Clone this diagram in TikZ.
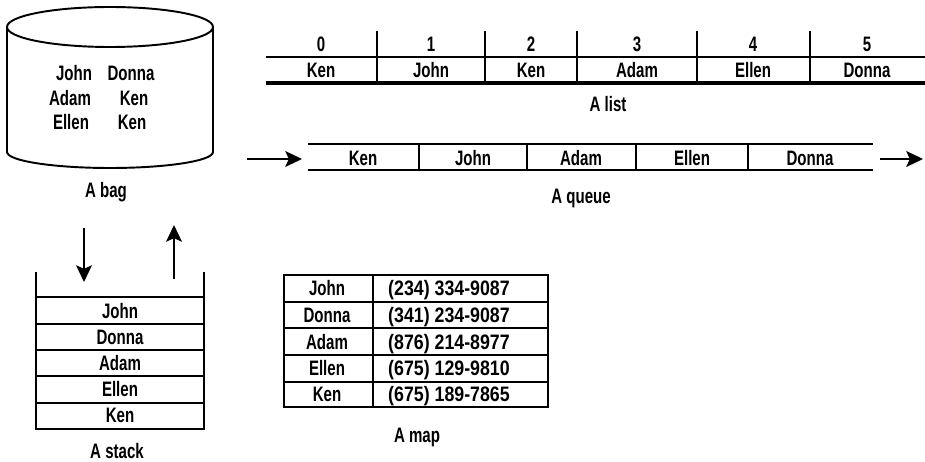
\documentclass[tikz,border=0pt]{standalone}
\usepackage{fontspec}
\setmainfont[FakeStretch=0.72]{Liberation Sans}
\newfontfamily\telfont[FakeStretch=0.85]{Liberation Sans}
\usetikzlibrary{arrows.meta}

\begin{document}
\begin{tikzpicture}[x=0.02cm,y=-0.02cm,line width=1.1pt,
  >={Stealth[length=9.5pt,width=9pt,inset=2pt]},
  txt/.style={anchor=base,inner sep=0pt,font=\fontsize{11.9}{14}\selectfont\bfseries},
  tel/.style={txt,font=\fontsize{11.9}{14}\telfont\bfseries}]
\useasboundingbox (0,0) rectangle (925,462);
\draw (7,27) -- (7,152) arc (180:0:103 and 16) -- (213,27);
\draw (110,27) ellipse (103 and 20);
\node[txt] (bagJohn) at (74,81) {John};
\node[txt] (bagDonna) at (131,81) {Donna};
\node[txt] (bagAdam) at (70,106) {Adam};
\node[txt] (bagKenA) at (134,106) {Ken};
\node[txt] (bagEllen) at (71,130) {Ellen};
\node[txt] (bagKenB) at (132,130) {Ken};
\node[txt] (bagCap) at (106,198) {A bag};
\draw (266,57) -- (925,57);
\draw[line width=1.9pt] (266,83) -- (925,83);
\draw (377,31) -- (377,83);
\draw (485,31) -- (485,83);
\draw (577,31) -- (577,83);
\draw (697,31) -- (697,83);
\draw (810,31) -- (810,83);
\node[txt] (idx0) at (321,52) {0};
\node[txt] (idx1) at (431,52) {1};
\node[txt] (idx2) at (531,52) {2};
\node[txt] (idx3) at (637,52) {3};
\node[txt] (idx4) at (753,52) {4};
\node[txt] (idx5) at (867,52) {5};
\node[txt] (lstKenA) at (321,78) {Ken};
\node[txt] (lstJohn) at (431,78) {John};
\node[txt] (lstKenB) at (531,78) {Ken};
\node[txt] (lstAdam) at (637,78) {Adam};
\node[txt] (lstEllen) at (753,78) {Ellen};
\node[txt] (lstDonna) at (867,78) {Donna};
\node[txt] (lstCap) at (608,112) {A list};
\draw (308,144) -- (873,144);
\draw (308,170) -- (873,170);
\draw (419,144) -- (419,170);
\draw (527,144) -- (527,170);
\draw (636,144) -- (636,170);
\draw (748,144) -- (748,170);
\node[txt] (queKen) at (363,166) {Ken};
\node[txt] (queJohn) at (473,166) {John};
\node[txt] (queAdam) at (581,166) {Adam};
\node[txt] (queEllen) at (692,166) {Ellen};
\node[txt] (queDonna) at (810,166) {Donna};
\node[txt] (queCap) at (581,204) {A queue};
\coordinate (inA) at (247,159);
\coordinate (inB) at (302,159);
\coordinate (outA) at (880,159);
\coordinate (outB) at (923,159);
\draw[->] (inA) -- (inB);
\draw[->] (outA) -- (outB);
\draw (36,272) -- (36,429) -- (204,429) -- (204,272);
\draw (36,297) -- (204,297);
\draw (36,324) -- (204,324);
\draw (36,350) -- (204,350);
\draw (36,376) -- (204,376);
\draw (36,403) -- (204,403);
\node[txt] (stkJohn) at (120,318) {John};
\node[txt] (stkDonna) at (120,344) {Donna};
\node[txt] (stkAdam) at (120,370) {Adam};
\node[txt] (stkEllen) at (120,396) {Ellen};
\node[txt] (stkKen) at (120,422) {Ken};
\node[txt] (stkCap) at (117,458) {A stack};
\coordinate (pushA) at (84,228);
\coordinate (pushB) at (84,282);
\coordinate (popA) at (174,279);
\coordinate (popB) at (174,225);
\draw[->] (pushA) -- (pushB);
\draw[->] (popA) -- (popB);
\draw (284,275) rectangle (548,407);
\draw (373,275) -- (373,407);
\draw (284,302) -- (548,302);
\draw (284,328) -- (548,328);
\draw (284,355) -- (548,355);
\draw (284,382) -- (548,382);
\node[txt] (mapJohn) at (327,296) {John};
\node[txt] (mapDonna) at (327,322) {Donna};
\node[txt] (mapAdam) at (327,349) {Adam};
\node[txt] (mapEllen) at (327,375) {Ellen};
\node[txt] (mapKen) at (327,401) {Ken};
\node[tel] (telJohn) at (449,296) {(234) 334-9087};
\node[tel] (telDonna) at (449,322) {(341) 234-9087};
\node[tel] (telAdam) at (449,349) {(876) 214-8977};
\node[tel] (telEllen) at (449,375) {(675) 129-9810};
\node[tel] (telKen) at (449,401) {(675) 189-7865};
\node[txt] (mapCap) at (417,442) {A map};
\end{tikzpicture}
\end{document}
